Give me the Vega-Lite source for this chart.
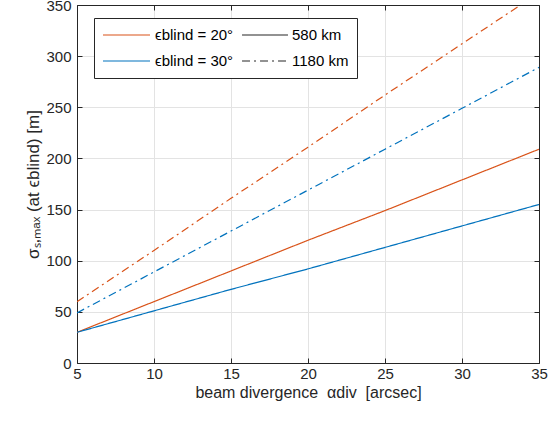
{
  "$schema": "https://vega.github.io/schema/vega-lite/v6.json",
  "width": 462,
  "height": 358,
  "autosize": "none",
  "padding": {"left": 77, "top": 5, "right": 19, "bottom": 60},
  "background": "white",
  "config": {
    "font": "Liberation Sans",
    "view": {"stroke": null},
    "axis": {
      "domainColor": "#262626",
      "tickColor": "#262626",
      "labelColor": "#262626",
      "titleColor": "#262626",
      "labelFont": "Liberation Sans",
      "labelFontSize": 15,
      "titleFont": "Liberation Sans",
      "titleFontSize": 16,
      "titleFontWeight": "normal",
      "gridColor": "#e3e3e3",
      "tickSize": -5,
      "domainWidth": 1,
      "tickWidth": 1
    }
  },
  "data": {
    "values": [
      {"alpha": 5, "sigma": 30, "eps": "ϵblind = 20°", "orbit": "580 km"},
      {"alpha": 10, "sigma": 60, "eps": "ϵblind = 20°", "orbit": "580 km"},
      {"alpha": 15, "sigma": 90, "eps": "ϵblind = 20°", "orbit": "580 km"},
      {"alpha": 20, "sigma": 120, "eps": "ϵblind = 20°", "orbit": "580 km"},
      {"alpha": 25, "sigma": 149, "eps": "ϵblind = 20°", "orbit": "580 km"},
      {"alpha": 30, "sigma": 179, "eps": "ϵblind = 20°", "orbit": "580 km"},
      {"alpha": 35, "sigma": 209, "eps": "ϵblind = 20°", "orbit": "580 km"},
      {"alpha": 5, "sigma": 30, "eps": "ϵblind = 30°", "orbit": "580 km"},
      {"alpha": 10, "sigma": 51, "eps": "ϵblind = 30°", "orbit": "580 km"},
      {"alpha": 15, "sigma": 72, "eps": "ϵblind = 30°", "orbit": "580 km"},
      {"alpha": 20, "sigma": 92, "eps": "ϵblind = 30°", "orbit": "580 km"},
      {"alpha": 25, "sigma": 113, "eps": "ϵblind = 30°", "orbit": "580 km"},
      {"alpha": 30, "sigma": 134, "eps": "ϵblind = 30°", "orbit": "580 km"},
      {"alpha": 35, "sigma": 155, "eps": "ϵblind = 30°", "orbit": "580 km"},
      {"alpha": 5, "sigma": 60, "eps": "ϵblind = 20°", "orbit": "1180 km"},
      {"alpha": 10, "sigma": 110, "eps": "ϵblind = 20°", "orbit": "1180 km"},
      {"alpha": 15, "sigma": 161, "eps": "ϵblind = 20°", "orbit": "1180 km"},
      {"alpha": 20, "sigma": 211, "eps": "ϵblind = 20°", "orbit": "1180 km"},
      {"alpha": 25, "sigma": 262, "eps": "ϵblind = 20°", "orbit": "1180 km"},
      {"alpha": 30, "sigma": 312, "eps": "ϵblind = 20°", "orbit": "1180 km"},
      {"alpha": 35, "sigma": 362, "eps": "ϵblind = 20°", "orbit": "1180 km"},
      {"alpha": 5, "sigma": 49, "eps": "ϵblind = 30°", "orbit": "1180 km"},
      {"alpha": 10, "sigma": 89, "eps": "ϵblind = 30°", "orbit": "1180 km"},
      {"alpha": 15, "sigma": 129, "eps": "ϵblind = 30°", "orbit": "1180 km"},
      {"alpha": 20, "sigma": 169, "eps": "ϵblind = 30°", "orbit": "1180 km"},
      {"alpha": 25, "sigma": 209, "eps": "ϵblind = 30°", "orbit": "1180 km"},
      {"alpha": 30, "sigma": 249, "eps": "ϵblind = 30°", "orbit": "1180 km"},
      {"alpha": 35, "sigma": 289, "eps": "ϵblind = 30°", "orbit": "1180 km"}
    ]
  },
  "resolve": {"axis": {"x": "independent", "y": "independent"}},
  "layer": [
    {
      "mark": {"type": "line", "clip": true, "strokeWidth": 1.2},
      "encoding": {
        "x": {
          "field": "alpha",
          "type": "quantitative",
          "scale": {"domain": [5, 35], "nice": false, "zero": false},
          "axis": {
            "orient": "bottom",
            "values": [5, 10, 15, 20, 25, 30, 35],
            "grid": true,
            "labelFlush": false,
            "labelPadding": 8,
            "title": "beam divergence\u00a0\u00a0αdiv\u00a0\u00a0[arcsec]",
            "titlePadding": 3
          }
        },
        "y": {
          "field": "sigma",
          "type": "quantitative",
          "scale": {"domain": [0, 350], "nice": false},
          "axis": {
            "orient": "left",
            "values": [0, 50, 100, 150, 200, 250, 300, 350],
            "grid": true,
            "labelPadding": 11,
            "title": "σₛ,ₘₐₓ (at ϵblind) [m]",
            "titleFontSize": 17,
            "titlePadding": 3
          }
        },
        "color": {
          "field": "eps",
          "type": "nominal",
          "scale": {"domain": ["ϵblind = 20°", "ϵblind = 30°"], "range": ["#D95319", "#0072BD"]},
          "legend": {
            "orient": "none",
            "legendX": 25,
            "legendY": 21,
            "zindex": 2,
            "title": null,
            "symbolType": "stroke",
            "symbolSize": 2209,
            "symbolOffset": 0,
            "symbolStrokeWidth": 1.2,
            "clipHeight": 18,
            "rowPadding": 8,
            "padding": 0,
            "labelFont": "Liberation Sans",
            "labelFontSize": 15,
            "labelColor": "#000000",
            "labelLimit": 300,
            "labelOffset": 4
          }
        },
        "strokeDash": {
          "field": "orbit",
          "type": "nominal",
          "scale": {"domain": ["580 km", "1180 km"], "range": [[1, 0], [8, 4, 2, 4]]},
          "legend": {
            "orient": "none",
            "legendX": 17,
            "legendY": 13,
            "zindex": 1,
            "title": null,
            "symbolType": "M0.495,0H0.989",
            "symbolSize": 34596,
            "symbolOffset": 0,
            "symbolStrokeWidth": 1.2,
            "symbolStrokeColor": "#262626",
            "symbolFillColor": "transparent",
            "clipHeight": 18,
            "rowPadding": 8,
            "padding": 8,
            "strokeColor": "#262626",
            "fillColor": "white",
            "labelFont": "Liberation Sans",
            "labelFontSize": 15,
            "labelColor": "#000000",
            "labelLimit": 200,
            "labelOffset": 2
          }
        }
      }
    },
    {
      "mark": {"type": "line", "opacity": 0},
      "encoding": {
        "x": {
          "field": "alpha",
          "type": "quantitative",
          "scale": {"domain": [5, 35], "nice": false, "zero": false},
          "axis": {"orient": "top", "values": [5, 10, 15, 20, 25, 30, 35], "labels": false, "grid": false, "title": null}
        },
        "y": {
          "field": "sigma",
          "type": "quantitative",
          "scale": {"domain": [0, 350], "nice": false},
          "axis": {"orient": "right", "values": [0, 50, 100, 150, 200, 250, 300, 350], "labels": false, "grid": false, "title": null}
        },
        "detail": {"field": "eps", "type": "nominal"}
      }
    }
  ]
}
